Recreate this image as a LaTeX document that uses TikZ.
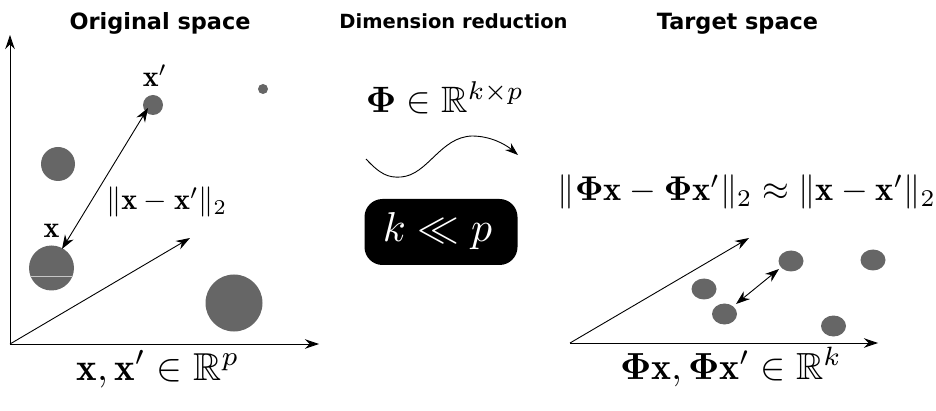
\documentclass[tikz,border=0pt]{standalone}
\usepackage{amsmath,amssymb,bm,graphicx}
\usepackage{fontspec}
\newfontfamily\titlefont{DejaVu Sans}
\usetikzlibrary{arrows.meta,shapes.geometric}
\definecolor{dotgray}{RGB}{102,102,102}
\tikzset{
  ttl/.style={font=\titlefont\bfseries\fontsize{22.4}{26}\selectfont,anchor=base,inner sep=0pt},
  ttlsmall/.style={font=\titlefont\bfseries\fontsize{19.5}{22}\selectfont,anchor=base,inner sep=0pt},
  mth/.style={inner sep=0pt,anchor=base},
  axis/.style={line width=0.9pt,-{Stealth[length=14pt,width=9.5pt]}},
  dbl/.style={line width=0.9pt,{Stealth[length=14pt,width=10pt]}-{Stealth[length=14pt,width=10pt]}},
  dot/.style={circle,fill=dotgray,inner sep=0pt,draw=none},
  edot/.style={ellipse,fill=dotgray,inner sep=0pt,draw=none,minimum width=25pt,minimum height=21pt},
}
\begin{document}
\begin{tikzpicture}[x=1pt,y=-1pt]
\useasboundingbox (0,0) rectangle (936,411);
% titles
\node[ttl] (t1) at (160,29.5) {Original space};
\node[ttlsmall] (t2) at (453.5,28.3) {Dimension reduction};
\node[ttl] (t3) at (737.5,29.5) {Target space};
% left axes
\coordinate (o1) at (10,344);
\coordinate (y1) at (10,35);
\coordinate (x1) at (319,344);
\coordinate (d1) at (190,238);
\draw[axis] (o1) -- (y1);
\draw[axis] (o1) -- (x1);
\draw[axis] (o1) -- (d1);
% left dots
\node[dot,minimum size=20pt] (xp) at (153,105) {};
\node[dot,minimum size=10pt] (tiny) at (263,89) {};
\node[dot,minimum size=34pt] (c3) at (58,164) {};
\node[dot,minimum size=45pt] (xx) at (51.5,268) {};
\draw[gray!45,line width=0.8pt] ([xshift=-21.5pt,yshift=-8pt]xx.center) -- ([xshift=21.5pt,yshift=-8pt]xx.center);
\node[dot,minimum size=57pt] (big) at (234,303) {};
\coordinate (a1) at (62,249);
\coordinate (a2) at (148,108);
\draw[dbl] (a1) -- (a2);
\node[mth] (lxp) at (155,87) {\scalebox{3}{$\mathbf{x}'$}};
\node[mth] (lx) at (51.5,238) {\scalebox{3}{$\mathbf{x}$}};
\node[mth,anchor=base west] (ld) at (106,210) {\resizebox{121pt}{!}{$\|\mathbf{x}-\mathbf{x}'\|_2$}};
\node[mth] (lb1) at (158,380) {\resizebox{163pt}{!}{$\mathbf{x},\mathbf{x}'\in\mathbb{R}^p$}};
% middle
\node[mth] (phi) at (445,113) {\resizebox{158pt}{!}{$\bm{\Phi}\in\mathbb{R}^{k\times p}$}};
\coordinate (w0) at (366,159);
\coordinate (w1) at (518,155);
\draw[line width=0.9pt,-{Stealth[length=13pt,width=9pt]}] (w0) .. controls (380,174) and (388,178) .. (401,177) .. controls (428,175) and (440,137) .. (472,136) .. controls (490,136) and (505,144) .. (w1);
\node[fill=black,rounded corners=18pt,minimum width=153pt,minimum height=66pt,inner sep=0pt] (box) at (441,232) {};
\node[mth,text=white] (kp) at (437.5,242) {\resizebox{109pt}{!}{$k\ll p$}};
% right
\node[mth] (eq) at (747,201) {\resizebox{378pt}{!}{$\|\bm{\Phi}\mathbf{x}-\bm{\Phi}\mathbf{x}'\|_2\approx\|\mathbf{x}-\mathbf{x}'\|_2$}};
\coordinate (o2) at (570,343);
\coordinate (x2) at (878,343);
\coordinate (d2) at (749,238);
\draw[axis] (o2) -- (x2);
\draw[axis] (o2) -- (d2);
\node[edot] (e1) at (704,289) {};
\node[edot] (e2) at (724.5,314) {};
\node[edot] (e3) at (791,261) {};
\node[edot] (e4) at (873,260) {};
\node[edot] (e5) at (833.5,326) {};
\coordinate (b1) at (736,304);
\coordinate (b2) at (779,269);
\draw[dbl] (b1) -- (b2);
\node[mth] (lb2) at (731,379) {\resizebox{222pt}{!}{$\bm{\Phi}\mathbf{x},\bm{\Phi}\mathbf{x}'\in\mathbb{R}^k$}};
\end{tikzpicture}
\end{document}
